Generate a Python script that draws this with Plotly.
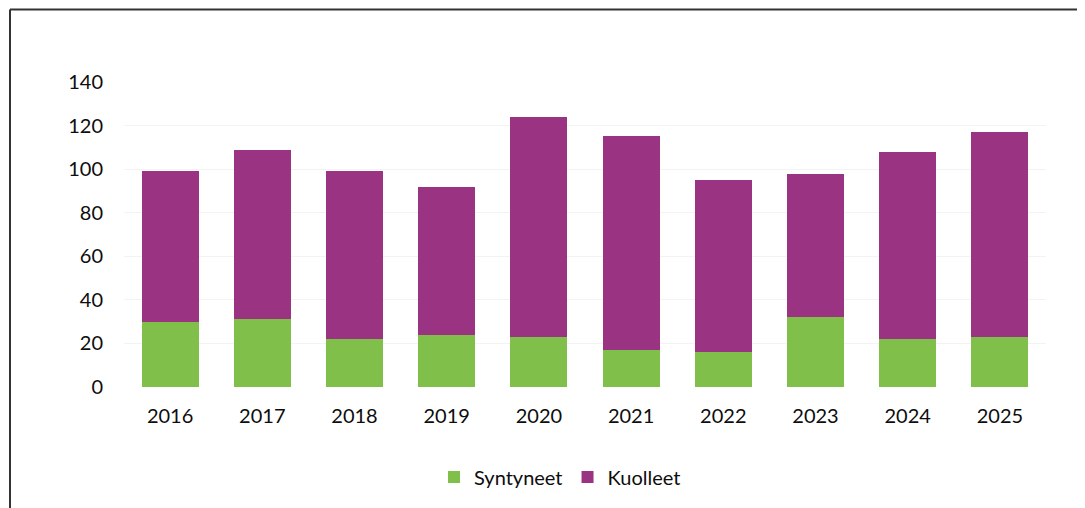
import plotly.graph_objects as go

years = ["2016", "2017", "2018", "2019", "2020", "2021", "2022", "2023", "2024", "2025"]
syntyneet = [30, 31, 22, 24, 23, 17, 16, 32, 22, 23]
kuolleet = [69, 78, 77, 68, 101, 98, 79, 66, 86, 94]
y_ticks = [0, 20, 40, 60, 80, 100, 120, 140]

GREEN = "#80c04a"
PURPLE = "#993382"
FONT = "Lato, 'Open Sans', sans-serif"
TXT = "#0d0d0d"

fig = go.Figure()
fig.add_trace(go.Bar(x=years, y=syntyneet, name="Syntyneet", marker=dict(color=GREEN, line=dict(width=0))))
fig.add_trace(go.Bar(x=years, y=kuolleet, name="Kuolleet", marker=dict(color=PURPLE, line=dict(width=0))))

OFF = 8  # page body margin
W, H = 1085, 508
L, T = 124 - OFF, 82 - OFF
pw, ph = 922, 305
R = W - L - pw
B = H - T - ph

def px(x):
    return (x - OFF - L) / pw

def py(y):
    return (T + ph - (y - OFF)) / ph

fig.update_layout(
    width=W, height=H,
    barmode="stack",
    bargap=0.38,
    margin=dict(l=L, r=R, t=T, b=B, pad=0),
    paper_bgcolor="white",
    plot_bgcolor="white",
    font=dict(family=FONT, size=20, color=TXT),
    showlegend=True,
    legend=dict(orientation="h", x=px(560), xanchor="center", y=py(477), yanchor="middle",
                font=dict(size=20, color=TXT), traceorder="normal",
                itemwidth=30, itemsizing="constant"),
    xaxis=dict(showgrid=False, showline=False, ticks="", tickfont=dict(size=20),
               ticklabelstandoff=15),
    yaxis=dict(range=[0, 140], tickvals=y_ticks, showgrid=True, gridcolor="#f3f3f3",
               gridwidth=1, zeroline=False, showline=False, ticks="",
               tickfont=dict(size=20), ticklabelstandoff=20),
    shapes=[
        dict(type="line", xref="paper", yref="paper", x0=px(10), x1=px(10), y0=py(9.5), y1=py(520),
             line=dict(color="#333333", width=2)),
        dict(type="line", xref="paper", yref="paper", x0=px(10), x1=px(1085), y0=py(9.5), y1=py(9.5),
             line=dict(color="#333333", width=2)),
    ],
)

fig.write_html("out.html")
